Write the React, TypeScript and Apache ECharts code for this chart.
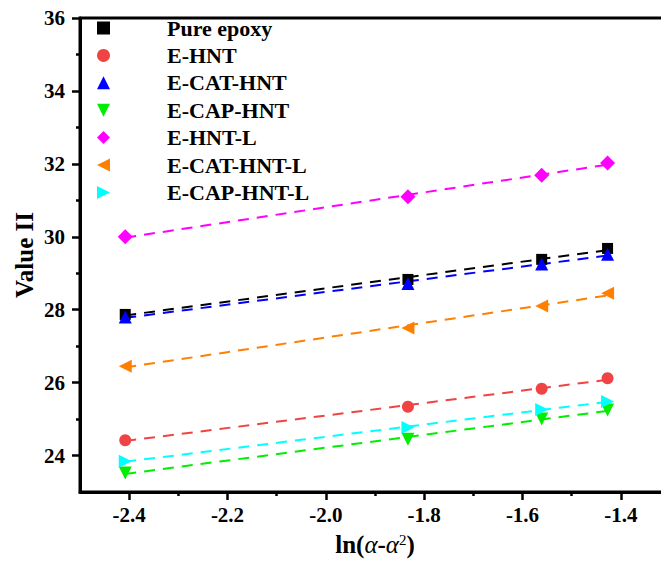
import React, { useEffect, useRef } from "react";
import * as echarts from "echarts";

const xVals = [-2.408, -1.833, -1.561, -1.427];
const seriesNames = [
  "Pure epoxy",
  "E-HNT",
  "E-CAT-HNT",
  "E-CAP-HNT",
  "E-HNT-L",
  "E-CAT-HNT-L",
  "E-CAP-HNT-L",
];
const pureEpoxy = [27.87, 28.83, 29.38, 29.68];
const eHNT = [24.42, 25.34, 25.83, 26.12];
const eCATHNT = [27.8, 28.72, 29.25, 29.52];
const eCAPHNT = [23.52, 24.45, 25.0, 25.25];
const eHNTL = [30.0, 31.1, 31.69, 32.02];
const eCATHNTL = [26.45, 27.5, 28.1, 28.45];
const eCAPHNTL = [23.84, 24.77, 25.26, 25.48];

const xMajorTicks = [-2.4, -2.2, -2.0, -1.8, -1.6, -1.4];
const xMinorTicks = [-2.3, -2.1, -1.9, -1.7, -1.5];
const yMajorTicks = [24, 26, 28, 30, 32, 34, 36];
const yMinorTicks = [25, 27, 29, 31, 33, 35];

const allValues = [pureEpoxy, eHNT, eCATHNT, eCAPHNT, eHNTL, eCATHNTL, eCAPHNTL];
const colors = ["#000000", "#f04343", "#0000ff", "#00ee00", "#ff00ff", "#ff8000", "#00ffff"];
const symbols = ["rect", "circle", "triangle", "triangle", "diamond", "triangle", "triangle"];
const rotations = [0, 0, 0, 180, 0, 90, -90];
const sizes = [11, 12, 13, 13, 15, 13, 13];
const legendIcons = [
  "rect",
  "circle",
  "path://M5,0 L10,10 L0,10 Z",
  "path://M0,0 L10,0 L5,10 Z",
  "diamond",
  "path://M10,0 L10,10 L0,5 Z",
  "path://M0,0 L10,5 L0,10 Z",
];

const FONT = "'Times New Roman', 'Liberation Serif', serif";

function fit(xs: number[], ys: number[]) {
  const n = xs.length;
  const mx = xs.reduce((a, b) => a + b, 0) / n;
  const my = ys.reduce((a, b) => a + b, 0) / n;
  let sxy = 0;
  let sxx = 0;
  for (let i = 0; i < n; i++) {
    sxy += (xs[i] - mx) * (ys[i] - my);
    sxx += (xs[i] - mx) * (xs[i] - mx);
  }
  const b = sxy / sxx;
  const a = my - b * mx;
  const x0 = xs[0];
  const x1 = xs[n - 1];
  return [
    [x0, a + b * x0],
    [x1, a + b * x1],
  ];
}

export default function App() {
  const ref = useRef<HTMLDivElement>(null);
  useEffect(() => {
    if (!ref.current) return;
    const chart = echarts.init(ref.current, null, { renderer: "svg" });

    const lineSeries = allValues.map((ys, i) => ({
      type: "line",
      data: fit(xVals, ys),
      xAxisIndex: 0,
      yAxisIndex: 0,
      symbol: "none",
      silent: true,
      z: 2,
      lineStyle: { color: colors[i], width: 2, type: [11, 8] },
    }));
    const scatterSeries = allValues.map((ys, i) => ({
      name: seriesNames[i],
      type: "scatter",
      xAxisIndex: 0,
      yAxisIndex: 0,
      data: xVals.map((x, j) => [x, ys[j]]),
      symbol: symbols[i],
      symbolRotate: rotations[i],
      symbolSize: sizes[i],
      z: 3,
      itemStyle: { color: colors[i], opacity: 1 },
    }));

    const axisLabelStyle = {
      fontFamily: FONT,
      fontWeight: "bold",
      fontSize: 21,
      color: "#000",
    };

    chart.setOption({
      animation: false,
      backgroundColor: "#fff",
      grid: {
        left: 80,
        top: 18,
        right: 30,
        bottom: 71,
        show: true,
        borderColor: "#000",
        borderWidth: 3,
        backgroundColor: "transparent",
      },
      legend: {
        orient: "vertical",
        left: 97,
        top: 17,
        padding: 0,
        itemGap: 5.4,
        itemWidth: 13,
        itemHeight: 13,
        selectedMode: false,
        data: seriesNames.map((name, i) => ({
          name,
          icon: legendIcons[i],
          itemStyle: { color: colors[i] },
        })),
        textStyle: {
          fontFamily: FONT,
          fontWeight: "bold",
          fontSize: 22,
          lineHeight: 20,
          color: "#000",
          padding: [0, 0, 0, 52],
        },
      },
      xAxis: [
        {
          type: "value",
          min: -2.5,
          max: -1.3,
          position: "bottom",
          axisLine: { show: true, onZero: false, lineStyle: { color: "#000", width: 3 } },
          axisTick: {
            show: true,
            inside: false,
            length: 8,
            customValues: xMajorTicks,
            lineStyle: { color: "#000", width: 2.5 },
          },
          axisLabel: {
            ...axisLabelStyle,
            margin: 12,
            customValues: xMajorTicks,
            formatter: (v: number) => v.toFixed(1),
          },
          splitLine: { show: false },
          name: "{n|ln(}{i|α}{n|-}{i|α}{s|2}{n|)}",
          nameLocation: "middle",
          nameGap: 40,
          nameMoveOverlap: false,
          nameTextStyle: {
            rich: {
              n: { fontFamily: FONT, fontWeight: "bold", fontSize: 25, color: "#000" },
              i: { fontFamily: FONT, fontStyle: "italic", fontSize: 25, color: "#000" },
              s: {
                fontFamily: FONT,
                fontSize: 15,
                color: "#000",
                verticalAlign: "top",
              },
            },
          },
        },
        {
          type: "value",
          min: -2.5,
          max: -1.3,
          position: "bottom",
          axisLine: { show: false, onZero: false },
          axisTick: {
            show: true,
            inside: false,
            length: 4,
            customValues: xMinorTicks,
            lineStyle: { color: "#000", width: 2.5 },
          },
          axisLabel: { show: false },
          splitLine: { show: false },
        },
      ],
      yAxis: [
        {
          type: "value",
          min: 23,
          max: 36,
          position: "left",
          axisLine: { show: true, onZero: false, lineStyle: { color: "#000", width: 3 } },
          axisTick: {
            show: true,
            inside: false,
            length: 8,
            customValues: yMajorTicks,
            lineStyle: { color: "#000", width: 2.5 },
          },
          axisLabel: {
            ...axisLabelStyle,
            margin: 15,
            customValues: yMajorTicks,
            formatter: (v: number) => String(Math.round(v)),
          },
          splitLine: { show: false },
          name: "Value II",
          nameLocation: "middle",
          nameRotate: 90,
          nameGap: 43,
          nameMoveOverlap: false,
          nameTextStyle: {
            fontFamily: FONT,
            fontWeight: "bold",
            fontSize: 25,
            color: "#000",
          },
        },
        {
          type: "value",
          min: 23,
          max: 36,
          position: "left",
          axisLine: { show: false, onZero: false },
          axisTick: {
            show: true,
            inside: false,
            length: 4,
            customValues: yMinorTicks,
            lineStyle: { color: "#000", width: 2.5 },
          },
          axisLabel: { show: false },
          splitLine: { show: false },
        },
      ],
      series: [...lineSeries, ...scatterSeries],
    });
    return () => chart.dispose();
  }, []);
  return (
    <div
      ref={ref}
      style={{ position: "fixed", left: 0, top: 0, width: 700, height: 563 }}
    />
  );
}
